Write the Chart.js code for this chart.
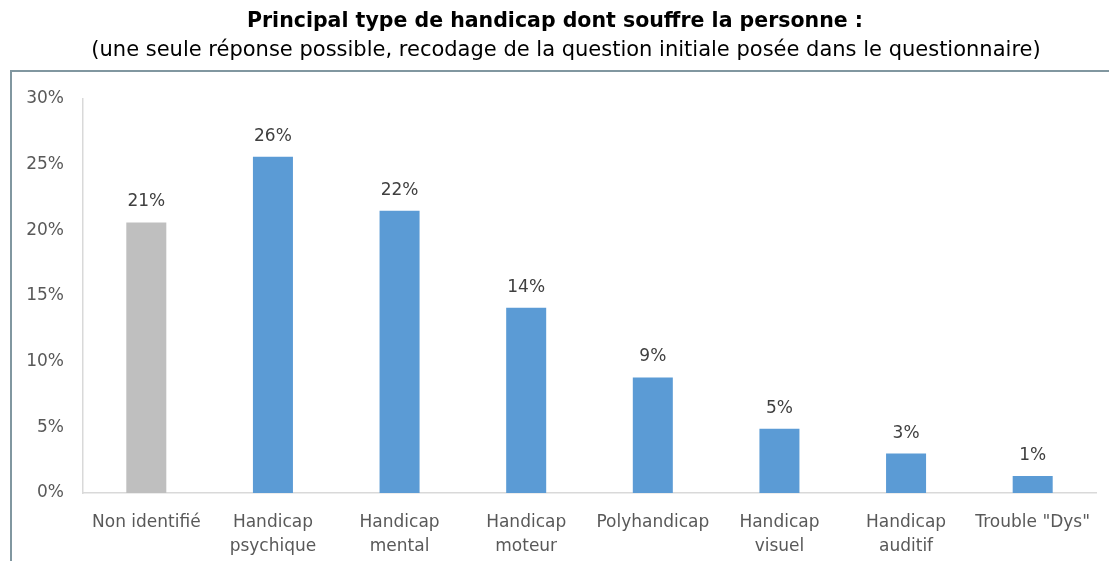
<!DOCTYPE html>
<html>
<head>
<meta charset="utf-8">
<script src="https://cdn.jsdelivr.net/npm/chart.js@4"></script>
<style>
  html, body { margin: 0; padding: 0; background: #fff; }
  #wrap { width: 1109px; height: 561px; position: relative; }
</style>
</head>
<body>
<div id="wrap"><canvas id="chart" width="1109" height="561"></canvas></div>
<script>
// handicap types, share of respondents (%)
const categories = [
  'Non identifié',
  ['Handicap', 'psychique'],
  ['Handicap', 'mental'],
  ['Handicap', 'moteur'],
  'Polyhandicap',
  ['Handicap', 'visuel'],
  ['Handicap', 'auditif'],
  'Trouble "Dys"'
];
const shares = [20.6, 25.6, 21.5, 14.1, 8.8, 4.9, 3.0, 1.3];
const barColors = ['#bfbfbf', '#5b9bd5', '#5b9bd5', '#5b9bd5', '#5b9bd5', '#5b9bd5', '#5b9bd5', '#5b9bd5'];
const yTicks = [0, 5, 10, 15, 20, 25, 30];

const titleText = 'Principal type de handicap dont souffre la personne :';
const subtitleText = '(une seule réponse possible, recodage de la question initiale posée dans le questionnaire)';

const FONT = '"DejaVu Sans", sans-serif';

// heading texts + the thin frame around the plot
const headerFrame = {
  id: 'headerFrame',
  beforeDraw(chart){
    const ctx = chart.ctx;
    ctx.save();
    ctx.fillStyle = '#000';
    ctx.textAlign = 'center';
    ctx.textBaseline = 'middle';
    ctx.font = 'bold 20.5px ' + FONT;
    ctx.fillText(titleText, 555, 22);
    ctx.font = '21px ' + FONT;
    ctx.fillText(subtitleText, 566, 51);
    ctx.strokeStyle = '#8197a0';
    ctx.lineWidth = 2;
    ctx.beginPath();
    ctx.moveTo(11, 561);
    ctx.lineTo(11, 71);
    ctx.lineTo(1109, 71);
    ctx.stroke();
    ctx.restore();
  }
};

// percentage labels above each bar
const valueLabels = {
  id: 'valueLabels',
  afterDatasetsDraw(chart){
    const ctx = chart.ctx;
    const meta = chart.getDatasetMeta(0);
    ctx.save();
    ctx.fillStyle = '#404040';
    ctx.font = '17px ' + FONT;
    ctx.textAlign = 'center';
    ctx.textBaseline = 'bottom';
    meta.data.forEach((bar, i) => {
      ctx.fillText(Math.round(shares[i]) + '%', bar.x, bar.y - 12);
    });
    ctx.restore();
  }
};

new Chart(document.getElementById('chart'), {
  type: 'bar',
  data: {
    labels: categories,
    datasets: [{
      data: shares,
      backgroundColor: barColors,
      borderWidth: 0,
      barPercentage: 0.316,
      categoryPercentage: 1
    }]
  },
  options: {
    responsive: false,
    animation: false,
    layout: { padding: { top: 99, right: 13, bottom: 0, left: 0 } },
    plugins: { legend: { display: false }, tooltip: { enabled: false } },
    scales: {
      x: {
        grid: { display: false },
        border: { display: true, color: '#d9d9d9', width: 1.5 },
        ticks: {
          color: '#595959',
          font: { family: FONT, size: 17, lineHeight: 1.45 },
          padding: 9,
          maxRotation: 0,
          autoSkip: false
        },
        afterFit(scale){ scale.height = 68; }
      },
      y: {
        min: 0,
        max: 30,
        grid: { display: false, drawTicks: false },
        border: { display: true, color: '#d9d9d9', width: 1.5 },
        afterBuildTicks(scale){ scale.ticks = yTicks.map(v => ({ value: v })); },
        ticks: {
          color: '#595959',
          font: { family: FONT, size: 17 },
          padding: 19,
          callback: v => v + '%'
        },
        afterFit(scale){ scale.width = 83; }
      }
    }
  },
  plugins: [headerFrame, valueLabels]
});
</script>
</body>
</html>
